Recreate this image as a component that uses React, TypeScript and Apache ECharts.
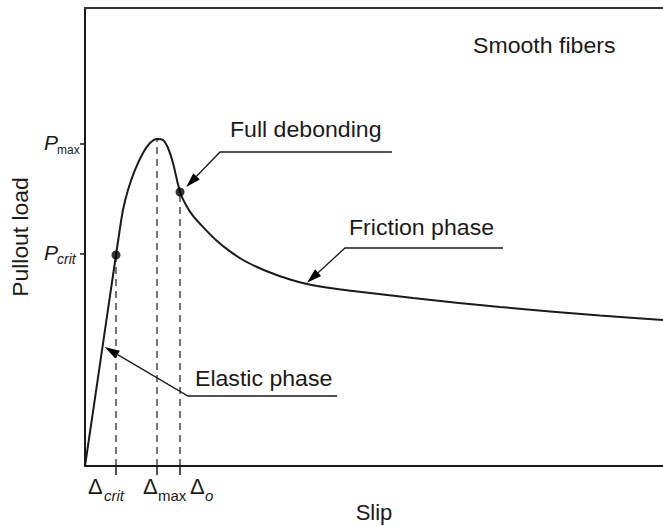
import React, { useEffect, useRef } from "react";
import * as echarts from "echarts";

// Pullout curve (slip and load in % of the axis range)
const curveSlip = [0, 2.68, 5.36, 5.88, 6.57, 7.44, 8.65, 10.03, 11.25, 12.46, 13.49, 14.36, 15.22, 16.44, 17.47, 18.69, 20.76, 22.84, 25.09, 27.34, 29.76, 32.01, 35.47, 38.41, 42.39, 46.37, 56.75, 71.8, 89.1, 100];
const curveLoad = [0, 23.0, 46.07, 50.44, 55.9, 60.26, 64.63, 68.34, 70.52, 71.4, 71.18, 69.43, 66.16, 59.83, 56.99, 54.59, 51.72, 49.13, 46.85, 44.98, 43.45, 42.25, 40.72, 39.74, 38.86, 38.21, 36.68, 34.72, 32.86, 31.88];

// marked points: P_crit and full debonding
const dotSlip = [5.36, 16.44];
const dotLoad = [46.07, 59.83];

// dashed guides (slip position and load at the top end)
const guideSlip = [5.36, 12.46, 16.44];
const guideTop = [46.07, 71.4, 59.83];

// axis tick positions
const slipTicks = [5.36, 12.46, 16.44];
const loadTicks = [46.29, 70.31];

// annotations: label, leader elbow, leader end (horizontal), arrow tip
const annLabels = ["Full debonding", "Friction phase", "Elastic phase"];
const annElbow = [[23.36, 68.56], [44.98, 47.6], [17.82, 15.28]];
const annEnd = [[53.11, 68.56], [72.32, 47.6], [43.6, 15.28]];
const annTip = [[17.5, 60.9], [38.41, 40.0], [3.4, 25.98]];

const FONT = "'Liberation Sans', Arial, sans-serif";
const INK = "#1a1a1a";

export default function App() {
  const ref = useRef<HTMLDivElement>(null);
  useEffect(() => {
    if (!ref.current) return;
    const chart = echarts.init(ref.current, undefined, { renderer: "svg" });
    const curve = curveSlip.map((x, i) => [x, curveLoad[i]]);
    const guides = guideSlip.map((x, i) => ({
      type: "line",
      data: [[x, 0], [x, guideTop[i]]],
      symbol: "none",
      silent: true,
      lineStyle: { color: INK, width: 1.2, type: [7, 5] },
      z: 1,
    }));
    const option: any = {
      animation: false,
      backgroundColor: "#fff",
      grid: { left: 85, top: 8, right: 0, bottom: 60 },
      xAxis: [
        {
          type: "value",
          min: 0,
          max: 100,
          axisLine: { show: true, lineStyle: { color: INK, width: 2 } },
          axisTick: { show: true, customValues: slipTicks, length: 9, lineStyle: { color: INK, width: 1.5 } },
          axisLabel: { show: false },
          splitLine: { show: false },
        },
        {
          type: "value",
          position: "top",
          min: 0,
          max: 100,
          axisLine: { show: true, onZero: false, lineStyle: { color: "#333", width: 2 } },
          axisTick: { show: false },
          axisLabel: { show: false },
          splitLine: { show: false },
        },
      ],
      yAxis: {
        type: "value",
        min: 0,
        max: 100,
        axisLine: { show: true, lineStyle: { color: INK, width: 2 } },
        axisTick: { show: true, customValues: loadTicks, length: 5, lineStyle: { color: INK, width: 1.5 } },
        axisLabel: { show: false },
        splitLine: { show: false },
      },
      series: [
        {
          type: "line",
          data: curve,
          smooth: 0.3,
          symbol: "none",
          lineStyle: { color: INK, width: 2 },
          z: 3,
        },
        ...guides,
        {
          type: "scatter",
          data: dotSlip.map((x, i) => [x, dotLoad[i]]),
          symbolSize: 9,
          itemStyle: { color: "#000" },
          z: 4,
        },
      ],
    };
    chart.setOption(option);

    const g: any[] = [];
    // leader lines with arrows
    annLabels.forEach((_, i) => {
      const e = chart.convertToPixel({ gridIndex: 0 }, annElbow[i]) as number[];
      const end = chart.convertToPixel({ gridIndex: 0 }, annEnd[i]) as number[];
      const t = chart.convertToPixel({ gridIndex: 0 }, annTip[i]) as number[];
      const dx = t[0] - e[0];
      const dy = t[1] - e[1];
      const len = Math.hypot(dx, dy);
      const ux = dx / len;
      const uy = dy / len;
      const L = 15;
      const W = 4.5;
      const bx = t[0] - ux * L;
      const by = t[1] - uy * L;
      g.push({
        type: "polyline",
        silent: true,
        shape: { points: [end, e, [bx, by]] },
        style: { stroke: INK, lineWidth: 1.3, fill: "none" },
      });
      g.push({
        type: "polygon",
        silent: true,
        shape: { points: [t, [bx - uy * W, by + ux * W], [bx + uy * W, by - ux * W]] },
        style: { fill: "#000", stroke: "none" },
      });
    });

    const txt = (text: string, x: number, y: number, size: number, opts: any = {}) => ({
      type: "text",
      silent: true,
      x,
      y,
      scaleX: opts.scaleX ?? 1,
      rotation: opts.rotation ?? 0,
      style: {
        text,
        fill: INK,
        font: `${opts.italic ? "italic " : ""}${size}px ${FONT}`,
        textAlign: opts.align ?? "left",
        textVerticalAlign: "middle",
      },
    });

    g.push(txt("Smooth fibers", 473, 46, 22, { scaleX: 1.05 }));
    g.push(txt("Full debonding", 230, 130, 22, { scaleX: 1.05 }));
    g.push(txt("Friction phase", 349, 228, 22, { scaleX: 1.05 }));
    g.push(txt("Elastic phase", 195, 379, 22, { scaleX: 1.05 }));
    g.push(txt("Slip", 374, 512, 22, { align: "center" }));
    g.push(txt("Pullout load", 21, 237, 22, { align: "center", rotation: Math.PI / 2, scaleX: 1.04 }));

    // y tick labels
    g.push(txt("P", 44, 142, 21, { italic: true }));
    g.push(txt("max", 57, 149.5, 12));
    g.push(txt("P", 44, 252, 21, { italic: true }));
    g.push(txt("crit", 57, 259, 14, { italic: true }));
    // x tick labels
    g.push(txt("Δ", 88, 486, 22));
    g.push(txt("crit", 104, 495, 15, { italic: true }));
    g.push(txt("Δ", 143, 486, 22));
    g.push(txt("max", 158, 495, 15));
    g.push(txt("Δ", 190, 486, 22));
    g.push(txt("o", 205, 495, 15, { italic: true }));

    chart.setOption({ graphic: g });
    return () => chart.dispose();
  }, []);
  return (
    <div
      ref={ref}
      style={{ position: "fixed", left: 0, top: 0, width: 663, height: 526, background: "#fff" }}
    />
  );
}
